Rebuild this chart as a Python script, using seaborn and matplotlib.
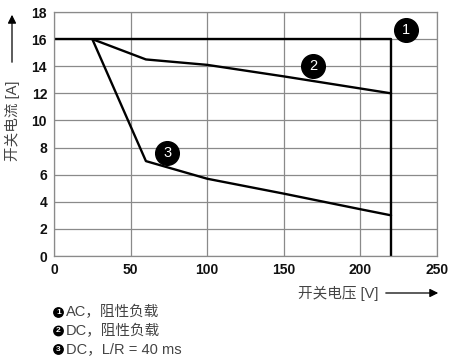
import matplotlib
matplotlib.use("Agg")
import matplotlib.pyplot as plt
import seaborn as sns
import pandas as pd

sns.set_style("white")
plt.rcParams['font.family'] = ['Liberation Sans', 'Noto Sans CJK SC', 'DejaVu Sans']

# Data
ac_v = [0, 220, 220]
ac_i = [16, 16, 0]
dc_v = [25, 60, 100, 150, 220]
dc_i = [16, 14.5, 14.1, 13.25, 12]
dcl_v = [25, 60, 100, 150, 200, 220]
dcl_i = [16, 7.0, 5.7, 4.6, 3.45, 3.0]

series_ids = ["1", "2", "3"]
legend_texts = ["AC，阻性负载", "DC，阻性负载", "DC，L/R = 40 ms"]
label_pos_v = [230, 169, 74]
label_pos_i = [16.7, 14.0, 7.6]

x_ticks = [0, 50, 100, 150, 200, 250]
y_ticks = [0, 2, 4, 6, 8, 10, 12, 14, 16, 18]
x_label = "开关电压 [V]"
y_label = "开关电流 [A]"

frames = []
for sid, v, i in zip(series_ids, [ac_v, dc_v, dcl_v], [ac_i, dc_i, dcl_i]):
    frames.append(pd.DataFrame({"v": v, "i": i, "s": sid, "order": range(len(v))}))
df = pd.concat(frames, ignore_index=True)

W, H = 465, 363
fig = plt.figure(figsize=(W / 100, H / 100), dpi=100)
ax = fig.add_axes([54 / W, 1 - 256 / H, 383 / W, 244 / H])

ax.set_xlim(0, 250)
ax.set_ylim(0, 18)
ax.set_xticks(x_ticks)
ax.set_yticks(y_ticks)
ax.grid(True, color="#8a8a8a", linewidth=0.9)
ax.set_axisbelow(True)
for sp in ax.spines.values():
    sp.set_color("#8a8a8a")
    sp.set_linewidth(0.9)

for sid in series_ids:
    sub = df[df["s"] == sid]
    sns.lineplot(data=sub, x="v", y="i", sort=False, estimator=None, color="black",
                 linewidth=1.7, ax=ax, legend=False)

ax.set_xlabel("")
ax.set_ylabel("")
ax.tick_params(axis="both", length=0, labelsize=10, colors="#111111", pad=5)
for lab in ax.get_xticklabels() + ax.get_yticklabels():
    lab.set_fontweight("bold")

# circled number labels
ax.scatter(label_pos_v, label_pos_i, s=290, color="black", zorder=5, clip_on=False)
for sid, xv, yv in zip(series_ids, label_pos_v, label_pos_i):
    ax.text(xv, yv, sid, color="white", ha="center", va="center", fontsize=10.5,
            zorder=6)

txt_color = "#444444"
# x label with arrow
fig.text(378 / W, 1 - 293 / H, x_label, ha="right", va="center", fontsize=10.5,
         color=txt_color)
fig.add_artist(matplotlib.patches.FancyArrowPatch(
    (383 / W, 1 - 293 / H), (441 / W, 1 - 293 / H), transform=fig.transFigure,
    arrowstyle="-|>,head_length=5,head_width=2.5", color="black", linewidth=0.9))

# y label with arrow
fig.text(12 / W, 1 - 161 / H, y_label, ha="center", va="bottom", rotation=90,
         fontsize=10.5, color=txt_color)
fig.add_artist(matplotlib.patches.FancyArrowPatch(
    (12 / W, 1 - 65 / H), (12 / W, 1 - 12 / H), transform=fig.transFigure,
    arrowstyle="-|>,head_length=5,head_width=2.5", color="black", linewidth=0.9))

# legend text
legend_y = [312.5, 331, 349.5]
for sid, t, yy in zip(series_ids, legend_texts, legend_y):
    fig.patches.append(matplotlib.patches.Ellipse((58.5 / W, 1 - yy / H), 9.4 / W, 9.4 / H,
                       transform=fig.transFigure, color="black"))
    fig.text(58.5 / W, 1 - yy / H, sid, ha="center", va="center", fontsize=6,
             color="white", fontweight="bold")
    fig.text(65.5 / W, 1 - yy / H, t, ha="left", va="center", fontsize=10.5,
             color=txt_color)

fig.savefig("out.png", dpi=100)
